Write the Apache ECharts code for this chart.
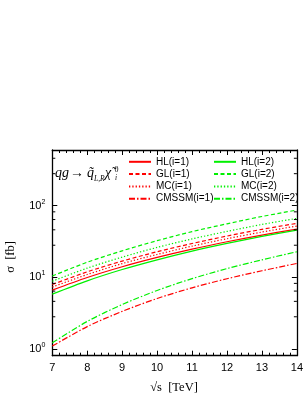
<!DOCTYPE html>
<html>
<head>
<meta charset="utf-8">
<script src="https://cdn.jsdelivr.net/npm/echarts@6/dist/echarts.min.js"></script>
<style>
html,body{margin:0;padding:0;background:#fff;}
#main{width:306px;height:396px;}
</style>
</head>
<body>
<div id="main"></div>
<script>
// ---- data ----
const xValues = [7, 8, 9, 10, 11, 12, 13, 14];
const hl1 = [6.6, 9.9, 14.0, 18.9, 24.7, 31.3, 38.8, 47.1];
const gl1 = [7.9, 11.9, 16.8, 22.7, 29.6, 37.6, 46.7, 56.6];
const mc1 = [7.3, 10.9, 15.5, 20.8, 27.2, 34.5, 42.8, 51.9];
const cm1 = [1.09, 2.04, 3.33, 5.04, 7.11, 9.53, 12.3, 15.6];
const hl2 = [5.8, 8.9, 12.8, 17.5, 23.2, 29.7, 37.2, 45.6];
const gl2 = [10.4, 16.2, 23.4, 32.4, 43.4, 55.8, 70.6, 86.9];
const mc2 = [8.8, 13.4, 19.1, 26.1, 34.3, 43.7, 54.6, 66.5];
const cm2 = [1.21, 2.41, 4.15, 6.53, 9.55, 13.2, 17.5, 22.7];
const names1 = ['HL(i=1)', 'GL(i=1)', 'MC(i=1)', 'CMSSM(i=1)'];
const names2 = ['HL(i=2)', 'GL(i=2)', 'MC(i=2)', 'CMSSM(i=2)'];
const yMinorTicks = [2.8, 4.6, 6.4, 8.2, 28, 46, 64, 82, 280, 460];

const RED = '#ff0000', GREEN = '#00f000';
const SOLID = 'solid', DASH = [4, 2.5], DOT = [1.3, 2], DASHDOT = [6, 2, 1.5, 2];

function pairs(ys) { return xValues.map((x, i) => [x, ys[i]]); }
function mk(name, ys, color, type) {
  return {
    name: name, type: 'line', data: pairs(ys), smooth: 0.3,
    symbol: 'none', showSymbol: false, xAxisIndex: 0, yAxisIndex: 0,
    lineStyle: { color: color, width: 1.2, type: type },
    itemStyle: { color: color }, z: 3
  };
}

const chart = echarts.init(document.getElementById('main'), null, { renderer: 'canvas' });

const axisLine = { show: true, lineStyle: { color: '#000', width: 1.3 } };
const sans = 'Liberation Sans, Arial, sans-serif';
const serif = 'Liberation Serif, Times New Roman, serif';

function yLabel(v) {
  const e = Math.round(Math.log10(v));
  if (Math.abs(Math.pow(10, e) - v) > 1e-6 * v) return '';
  return '10{sup|' + e + '}';
}

const legendBase = {
  orient: 'vertical', top: 156.8, padding: 0,
  itemWidth: 22, itemHeight: 10, itemGap: 2.3, selectedMode: false,
  itemStyle: { opacity: 0 },
  textStyle: { fontSize: 10, fontFamily: sans, color: '#000', lineHeight: 10 }
};

const option = {
  animation: false,
  backgroundColor: '#fff',
  grid: { left: 52.3, right: 8.3, top: 150, bottom: 40.3, containLabel: false },
  xAxis: [
    {
      type: 'value', min: 7, max: 14, interval: 1, position: 'bottom',
      axisLine: axisLine,
      axisTick: { show: true, inside: true, length: 5, lineStyle: { color: '#000', width: 1 } },
      minorTick: { show: true, splitNumber: 5, length: 3, lineStyle: { color: '#000', width: 1 } },
      splitLine: { show: false }, minorSplitLine: { show: false },
      axisLabel: { show: true, margin: 7, fontSize: 11, color: '#000', fontFamily: sans }
    },
    {
      type: 'value', min: 7, max: 14, interval: 1, position: 'top',
      axisLine: axisLine,
      axisTick: { show: true, inside: true, length: 5, lineStyle: { color: '#000', width: 1 } },
      minorTick: { show: true, splitNumber: 5, length: 3, lineStyle: { color: '#000', width: 1 } },
      splitLine: { show: false }, minorSplitLine: { show: false },
      axisLabel: { show: false }
    }
  ],
  yAxis: [
    {
      type: 'log', logBase: 10, min: 0.8, max: 600, position: 'left',
      axisLine: axisLine,
      axisTick: { show: true, inside: true, length: 5, lineStyle: { color: '#000', width: 1 } },
      splitLine: { show: false },
      axisLabel: {
        show: true, margin: 7, fontSize: 11, color: '#000', fontFamily: sans,
        formatter: yLabel,
        rich: { sup: { fontSize: 7, fontFamily: sans, color: '#000', padding: [0, 0, 8, 0] } }
      }
    },
    {
      type: 'log', logBase: 10, min: 0.8, max: 600, position: 'right',
      axisLine: axisLine,
      axisTick: { show: true, inside: true, length: 5, lineStyle: { color: '#000', width: 1 } },
      splitLine: { show: false },
      axisLabel: { show: false }
    }
  ],
  legend: [
    Object.assign({}, legendBase, { data: names1, left: 128 }),
    Object.assign({}, legendBase, { data: names2, left: 213 })
  ],
  series: [
    mk('HL(i=1)', hl1, RED, SOLID),
    mk('GL(i=1)', gl1, RED, DASH),
    mk('MC(i=1)', mc1, RED, DOT),
    mk('CMSSM(i=1)', cm1, RED, DASHDOT),
    mk('HL(i=2)', hl2, GREEN, SOLID),
    mk('GL(i=2)', gl2, GREEN, DASH),
    mk('MC(i=2)', mc2, GREEN, DOT),
    mk('CMSSM(i=2)', cm2, GREEN, DASHDOT),
    {
      name: 'yminor', type: 'custom', xAxisIndex: 0, yAxisIndex: 0, z: 5, silent: true,
      data: yMinorTicks.map(v => [7, v]),
      renderItem: function (params, api) {
        const v = api.value(1);
        const pL = api.coord([7, v]);
        const pR = api.coord([14, v]);
        const st = { stroke: '#000', lineWidth: 1 };
        return {
          type: 'group', children: [
            { type: 'line', shape: { x1: pL[0], y1: pL[1], x2: pL[0] + 3, y2: pL[1] }, style: st },
            { type: 'line', shape: { x1: pR[0], y1: pR[1], x2: pR[0] - 3, y2: pR[1] }, style: st }
          ]
        };
      }
    }
  ],
  graphic: [
    { type: 'text', left: 55, top: 166, style: { text: 'qg', font: 'italic 14px ' + serif, fill: '#000' } },
    { type: 'text', left: 70, top: 166, style: { text: '→', font: '14px ' + serif, fill: '#000' } },
    { type: 'text', left: 87, top: 166, style: { text: 'q\u0303', font: 'italic 14px ' + serif, fill: '#000' } },
    { type: 'text', left: 94, top: 175, style: { text: 'L,R', font: 'italic 7.5px ' + serif, fill: '#000' } },
    { type: 'text', left: 105, top: 166, style: { text: 'χ\u0303', font: 'italic 14px ' + serif, fill: '#000' } },
    { type: 'text', left: 114.5, top: 165.5, style: { text: '0', font: '8px ' + serif, fill: '#000' } },
    { type: 'text', left: 115, top: 174.5, style: { text: 'i', font: 'italic 7.5px ' + serif, fill: '#000' } },
    { type: 'text', x: 174, y: 388, style: { text: '√s  [TeV]', font: '12.5px ' + serif, fill: '#000', align: 'center', verticalAlign: 'middle' } },
    { type: 'text', x: 11, y: 257, rotation: Math.PI / 2, style: { text: 'σ  [fb]', font: '12.5px ' + serif, fill: '#000', align: 'center', verticalAlign: 'middle' } }
  ]
};
chart.setOption(option);
</script>
</body>
</html>
